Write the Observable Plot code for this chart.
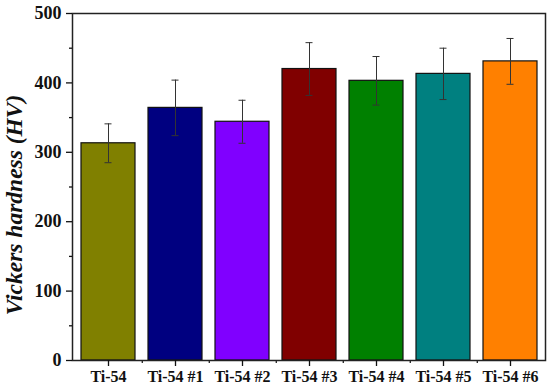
<!DOCTYPE html>
<html><head>
<meta charset="utf-8">
<script src="https://cdn.jsdelivr.net/npm/d3@7"></script>
<script src="https://cdn.jsdelivr.net/npm/@observablehq/plot@0.6"></script>
<style>
body{margin:0;background:#fff}
#chart svg text{font-weight:bold}
</style>
</head><body><div id="chart"></div>
<script>
const samples = ["Ti-54","Ti-54 #1","Ti-54 #2","Ti-54 #3","Ti-54 #4","Ti-54 #5","Ti-54 #6"];
const hardness = [313,364,344,420,403,413,431];
const errors = [28,40,31,38,35,37,33];
const colors = ["#808000","#000080","#8000FF","#800000","#008000","#008080","#FF8000"];
const yTicks = [0,100,200,300,400,500];
const yMinorTicks = [50,150,250,350,450];
const yLabel = "Vickers hardness (HV)";

const data = samples.map((s,i)=>({sample:s, hv:hardness[i], err:errors[i]}));
const W=550, H=389, mL=72, mR=5;
const step = (W-mL-mR)/samples.length;

const chart = Plot.plot({
  width:W, height:H, marginLeft:mL, marginRight:mR, marginTop:13, marginBottom:29,
  style:{fontFamily:"'Liberation Serif','Times New Roman',serif", background:"#fff", color:"#111", overflow:"visible"},
  x:{domain:samples, paddingInner:0.2, paddingOuter:0.1, label:null},
  y:{domain:[0,500], label:null},
  color:{domain:samples, range:colors},
  marks:[
    Plot.barY(data,{x:"sample", y:"hv", fill:"sample", stroke:"#111", strokeWidth:1.2}),
    Plot.ruleX(data,{x:"sample", y1:d=>d.hv-d.err, y2:d=>d.hv+d.err, stroke:"#333", strokeWidth:1}),
    Plot.tickY(data,{x:"sample", y:d=>d.hv-d.err, insetLeft:23.5, insetRight:23.5, stroke:"#333", strokeWidth:1}),
    Plot.tickY(data,{x:"sample", y:d=>d.hv+d.err, insetLeft:23.5, insetRight:23.5, stroke:"#333", strokeWidth:1}),
    Plot.frame({stroke:"#222", strokeWidth:1.5}),
    Plot.axisY({ticks:yTicks, tickSize:6, tickPadding:5, fontSize:18, label:null, strokeWidth:1.3}),
    Plot.axisY({ticks:yMinorTicks, tickSize:3, text:null, label:null, strokeWidth:1.3}),
    Plot.axisX({tickSize:6, tickPadding:4, fontSize:16, label:null, strokeWidth:1.3}),
    Plot.ruleX(samples.slice(0,-1), {x:d=>d, y1:0, y2:0, dx:step/2, insetBottom:-3, stroke:"#222", strokeWidth:1.3}),
    Plot.text([yLabel], {frameAnchor:"left", textAnchor:"middle", rotate:-90, dx:-58, dy:18, fontSize:23.5, fontWeight:"bold", fontStyle:"italic"})
  ]
});
document.getElementById("chart").append(chart);
</script>
</body></html>
